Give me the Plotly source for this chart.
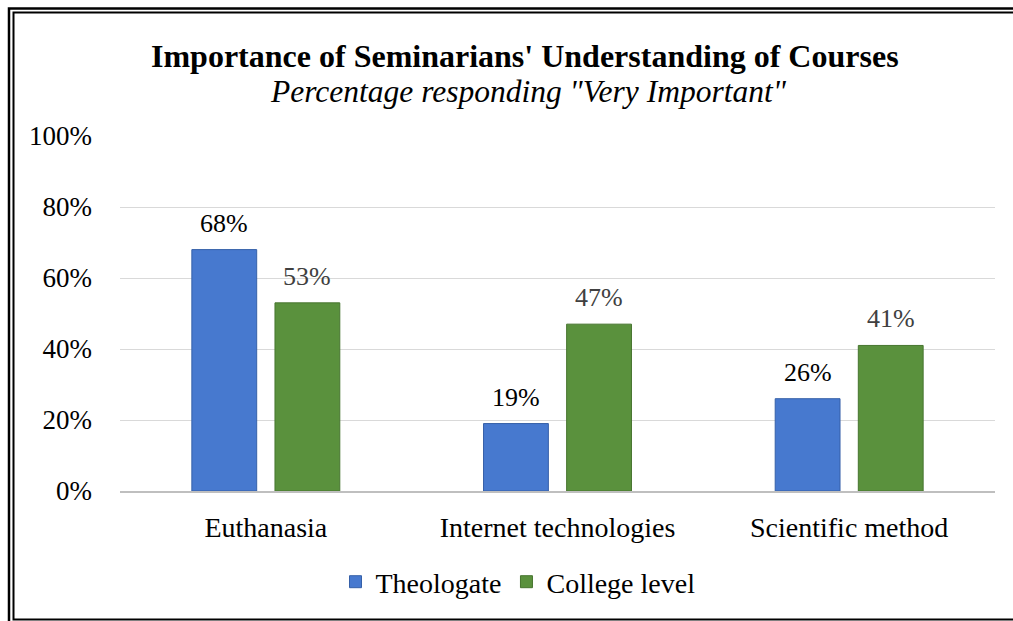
import plotly.graph_objects as go

categories = ["Euthanasia", "Internet technologies", "Scientific method"]
theologate = [0.68, 0.19, 0.26]
college = [0.53, 0.47, 0.41]
series_names = ["Theologate", "College level"]
tick_vals = [0, 0.2, 0.4, 0.6, 0.8, 1.0]
tick_text = ["0%", "20%", "40%", "60%", "80%", "100%"]

FONT = "Liberation Serif, Times New Roman, serif"
BLUE, BLUE_EDGE = "#4779CF", "#3660A8"
GREEN, GREEN_EDGE = "#5A913D", "#47752F"

fig = go.Figure()
fig.add_trace(go.Bar(
    name=series_names[0], x=categories, y=theologate,
    marker=dict(color=BLUE, line=dict(color=BLUE_EDGE, width=1)),
))
fig.add_trace(go.Bar(
    name=series_names[1], x=categories, y=college,
    marker=dict(color=GREEN, line=dict(color=GREEN_EDGE, width=1)),
))

L, R, T, B = 120, 18, 136, 130
W, H = 1013, 621
pw, ph = W - L - R, H - T - B

def px(x):
    return (x - L) / pw

def py(y):
    return (H - B - y) / ph

shapes = [
    dict(type="rect", xref="paper", yref="paper", x0=px(9), x1=px(1030), y0=py(640), y1=py(8.5),
         line=dict(color="#000", width=2.5), layer="above"),
    dict(type="rect", xref="paper", yref="paper", x0=px(13.5), x1=px(1025), y0=py(619.5), y1=py(12.5),
         line=dict(color="#000", width=2), layer="above"),
]

annotations = [
    dict(text="<b>Importance of Seminarians' Understanding of Courses</b>", xref="paper", yref="paper",
         x=px(525), y=py(56), xanchor="center", yanchor="middle", showarrow=False,
         font=dict(family=FONT, size=32, color="#000")),
    dict(text="<i>Percentage responding \"Very Important\"</i>", xref="paper", yref="paper",
         x=px(528), y=py(91.5), xanchor="center", yanchor="middle", showarrow=False,
         font=dict(family=FONT, size=31.5, color="#000")),
]

# value labels above the bars, placed via the axis scales
for vals, shift, col in ((theologate, -41.5, "#000000"), (college, 41.5, "#404040")):
    for c, v in zip(categories, vals):
        annotations.append(dict(
            x=c, y=v, xref="x", yref="y", text=f"{round(v*100)}%", showarrow=False,
            xanchor="center", yanchor="bottom", xshift=shift, yshift=10,
            font=dict(family=FONT, size=26, color=col),
        ))

fig.update_layout(
    width=W, height=H,
    margin=dict(l=L, r=R, t=T, b=B),
    paper_bgcolor="white", plot_bgcolor="white",
    barmode="group", bargap=0.43, bargroupgap=0.22,
    font=dict(family=FONT, size=28, color="#000"),
    shapes=shapes, annotations=annotations,
    showlegend=True,
    legend=dict(orientation="h", x=px(518), xanchor="center", y=py(582), yanchor="middle",
                font=dict(family=FONT, size=28, color="#000"), itemwidth=30,
                traceorder="normal", bgcolor="rgba(0,0,0,0)"),
    xaxis=dict(showgrid=False, showline=True, linecolor="#BFBFBF", linewidth=1.5,
               tickfont=dict(family=FONT, size=28, color="#000"), ticks="", ticklen=0,
               ticklabelstandoff=11),
    yaxis=dict(range=[0, 1.0], tickvals=tick_vals, ticktext=tick_text, showgrid=True,
               gridcolor="#D9D9D9", gridwidth=1, zeroline=False, showline=False,
               tickfont=dict(family=FONT, size=27, color="#000"), ticks="", ticklabelstandoff=27),
)

fig.write_html("out.html", config={"displayModeBar": False},
               post_script="document.body.style.margin='0';")
